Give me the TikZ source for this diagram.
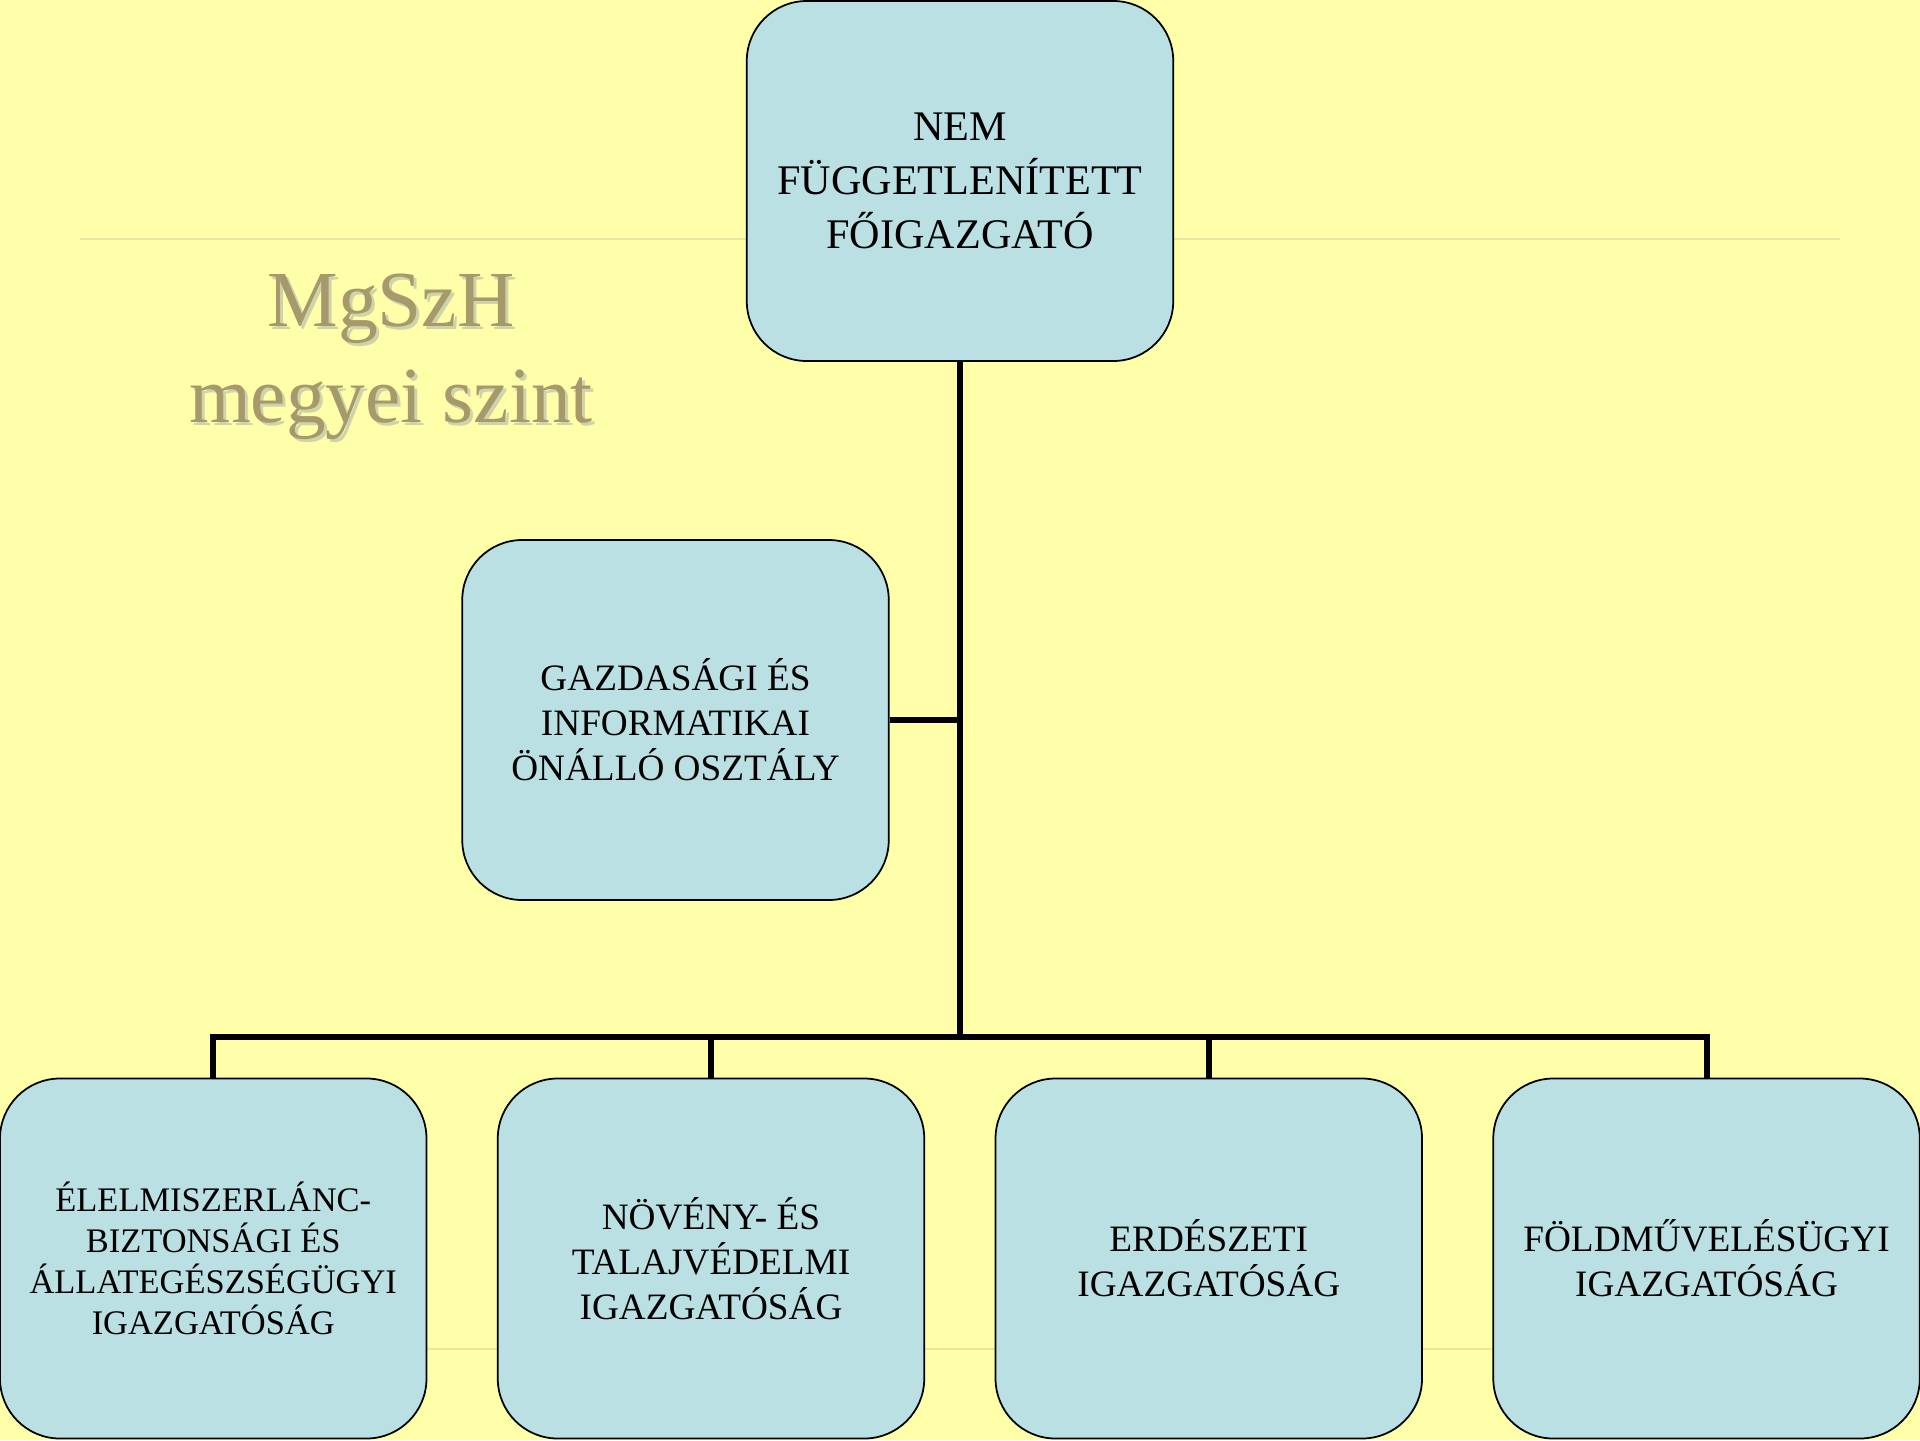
\documentclass[tikz,border=0pt]{standalone}
\usepackage{fontspec}
\setmainfont{Liberation Serif}
\usepackage{xcolor}
\usetikzlibrary{positioning}

\definecolor{bgyellow}{RGB}{255,255,170}
\definecolor{boxblue}{RGB}{187,224,228}
\definecolor{rulecol}{RGB}{236,230,158}
\definecolor{titlecol}{RGB}{166,153,108}
\definecolor{shadowcol}{RGB}{150,158,168}

\begin{document}
\begin{tikzpicture}[
    box/.style={draw, line width=0.5pt, fill=boxblue, rounded corners=0.6cm,
      minimum width=4.265cm, minimum height=3.6cm, align=center, inner sep=0pt},
    topfont/.style={font=\fontsize{12}{15.4}\selectfont},
    midfont/.style={font=\fontsize{10.6}{12.8}\selectfont},
    lowfont/.style={font=\fontsize{9.8}{11.7}\selectfont},
    titletext/.style={align=center, font=\fontsize{22.6}{27.3}\selectfont},
    conn/.style={line width=0.06cm}
  ]
  \useasboundingbox (0,0) rectangle (19.2,-14.4);
  \fill[bgyellow] (0,0) rectangle (19.2,-14.4);
  \draw[rulecol, line width=0.3pt] (0.8,-2.39) -- (18.4,-2.39);
  \draw[rulecol, line width=0.3pt] (0.8,-13.49) -- (18.4,-13.49);

  \node (titleshadow) [titletext, text=shadowcol, text opacity=0.45] at (3.94,-3.60) {MgSzH\\megyei szint};
  \node (title) [titletext, text=titlecol] at (3.91,-3.57) {MgSzH\\megyei szint};

  \node (foig) [box, topfont] at (9.6,-1.81) {NEM\\FÜGGETLENÍTETT\\FŐIGAZGATÓ};
  \node (gazd) [box, midfont] at (6.755,-7.2) {GAZDASÁGI ÉS\\INFORMATIKAI\\ÖNÁLLÓ OSZTÁLY};

  \node (elel) [box, lowfont] at (2.1325,-12.585) {ÉLELMISZERLÁNC-\\BIZTONSÁGI ÉS\\ÁLLATEGÉSZSÉGÜGYI\\IGAZGATÓSÁG};
  \node (noveny) [box, midfont, right=0.695cm of elel] {NÖVÉNY- ÉS\\TALAJVÉDELMI\\IGAZGATÓSÁG};
  \node (erdesz) [box, midfont, right=0.695cm of noveny] {ERDÉSZETI\\IGAZGATÓSÁG};
  \node (fold) [box, midfont, right=0.695cm of erdesz] {FÖLDMŰVELÉSÜGYI\\IGAZGATÓSÁG};

  \coordinate (bus) at (9.6,-10.37);
  \draw[conn] (foig.south) -- (bus);
  \draw[conn] (gazd.east) -- (gazd.east -| bus);
  \draw[conn] (elel.north) -- (elel.north |- bus) -- (fold.north |- bus) -- (fold.north);
  \foreach \n in {noveny,erdesz}
    \draw[conn] (\n.north) -- (\n.north |- bus);
\end{tikzpicture}
\end{document}
